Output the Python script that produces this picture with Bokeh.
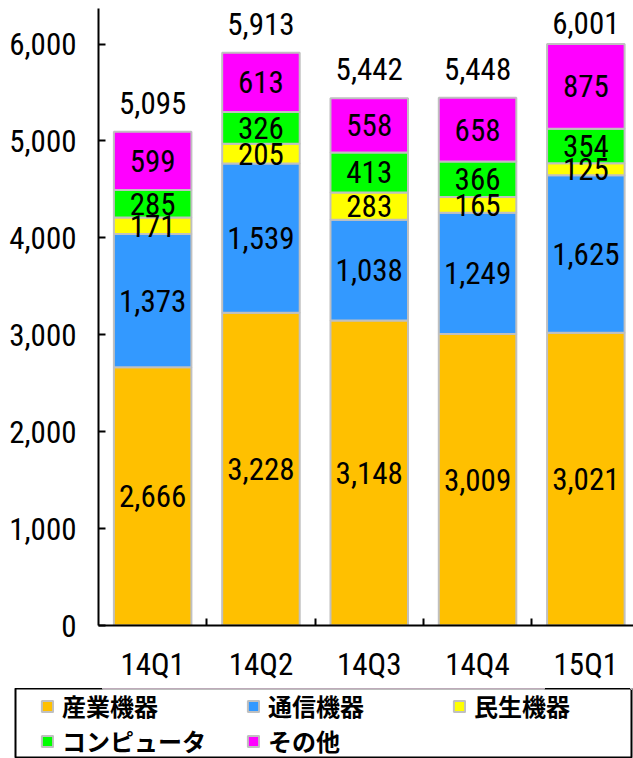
import numpy as np
from bokeh.plotting import figure
from bokeh.models import ColumnDataSource, Range1d, FixedTicker, NumeralTickFormatter, Legend, LegendItem
from bokeh.core.properties import value
from bokeh.embed import file_html
from bokeh.resources import INLINE

# ---- data ----
categories = ["14Q1", "14Q2", "14Q3", "14Q4", "15Q1"]
series_names = ["産業機器", "通信機器", "民生機器", "コンピュータ", "その他"]
industrial = [2666, 3228, 3148, 3009, 3021]
communication = [1373, 1539, 1038, 1249, 1625]
consumer = [171, 205, 283, 165, 125]
computer = [285, 326, 413, 366, 354]
other = [599, 613, 558, 658, 875]
totals = [5095, 5913, 5442, 5448, 6001]
y_ticks = [0, 1000, 2000, 3000, 4000, 5000, 6000]
colors = ["#FFC000", "#3399FF", "#FFFF00", "#00FF00", "#FF00FF"]

NUM_FONT = "Liberation Sans Narrow, Arial Narrow, Roboto Condensed, sans-serif"
CJK_FONT = "Noto Sans CJK JP"
LABEL_CEIL = 5920  # total labels are kept inside the chart area (like the original)

series = [industrial, communication, consumer, computer, other]
keys = ["s%d" % i for i in range(len(series))]
xpos = np.arange(len(categories)) + 0.5

data = {"x": xpos}
for k, s in zip(keys, series):
    data[k] = s
source = ColumnDataSource(data)

p = figure(width=633, height=688, output_backend="svg", toolbar_location=None,
           x_range=Range1d(0, 4.94), y_range=Range1d(0, 6367),
           min_border_left=98, min_border_right=0, min_border_top=8, min_border_bottom=63)
p.outline_line_color = None
p.grid.visible = False

p.vbar_stack(keys, x="x", width=0.716, color=colors, line_color="#c0c0c0",
             line_width=2, source=source)

# segment labels
arr = np.array(series, dtype=float)
cum = np.cumsum(arr, axis=0)
mids = cum - arr / 2
lx, ly, lt = [], [], []
for j in range(arr.shape[0]):
    for i in range(arr.shape[1]):
        lx.append(xpos[i]); ly.append(mids[j, i]); lt.append(f"{int(arr[j, i]):,}")
p.text(x=lx, y=ly, text=lt, text_align="center", text_baseline="middle",
       text_font=value(NUM_FONT), text_font_size="31px", text_color="black")

# totals
p.text(x=list(xpos), y=list(np.minimum(cum[-1], LABEL_CEIL)), text=[f"{t:,}" for t in totals],
       text_align="center", text_baseline="middle", y_offset=-29,
       text_font=value(NUM_FONT), text_font_size="31px", text_color="black")

# axes
p.yaxis.ticker = FixedTicker(ticks=y_ticks)
p.yaxis.formatter = NumeralTickFormatter(format="0,0")
p.yaxis.major_tick_in = 7
p.yaxis.major_tick_out = 0
p.yaxis.minor_tick_line_color = None
p.yaxis.major_label_standoff = 22
p.yaxis.major_label_text_font = NUM_FONT
p.yaxis.major_label_text_font_size = "31px"
p.yaxis.major_label_text_color = "black"
p.yaxis.axis_line_width = 2
p.yaxis.major_tick_line_width = 2

p.xaxis.ticker = FixedTicker(ticks=list(xpos), minor_ticks=list(range(1, len(categories))))
p.xaxis.major_label_overrides = {float(x): c for x, c in zip(xpos, categories)}
p.xaxis.major_tick_in = 0
p.xaxis.major_tick_out = 0
p.xaxis.minor_tick_in = 7
p.xaxis.minor_tick_out = 0
p.xaxis.minor_tick_line_width = 2
p.xaxis.major_label_standoff = 20
p.xaxis.major_label_text_font = NUM_FONT
p.xaxis.major_label_text_font_size = "31px"
p.xaxis.major_label_text_color = "black"
p.xaxis.axis_line_width = 2

# legend panel (separate root so its box can start left of the plot frame)
lg = figure(width=633, height=70, output_backend="svg", toolbar_location=None,
            x_range=Range1d(0, 1), y_range=Range1d(-2, -1),
            x_axis_location=None, y_axis_location=None,
            min_border_left=15, min_border_right=2, min_border_top=0, min_border_bottom=0)
lg.grid.visible = False
lg.outline_line_color = "black"
lg.outline_line_width = 2
# same series drawn out of view; they only supply the legend swatches
lg_rs = lg.vbar_stack(keys, x="x", width=0.716, color=colors, line_color="#c0c0c0",
                      line_width=2, source=source)
items = [LegendItem(label=name, renderers=[r]) for name, r in zip(series_names, lg_rs)]
legend = Legend(items=items, ncols=3, orientation="horizontal", location=(25, 0),
                border_line_color=None, background_fill_alpha=0, padding=0, spacing=0,
                margin=0, glyph_width=14, glyph_height=14, label_standoff=8, label_width=184,
                label_text_font=CJK_FONT, label_text_font_style="bold",
                label_text_font_size="24px", label_text_color="black")
lg.add_layout(legend)

open("out.html", "w").write(file_html([p, lg], INLINE))
